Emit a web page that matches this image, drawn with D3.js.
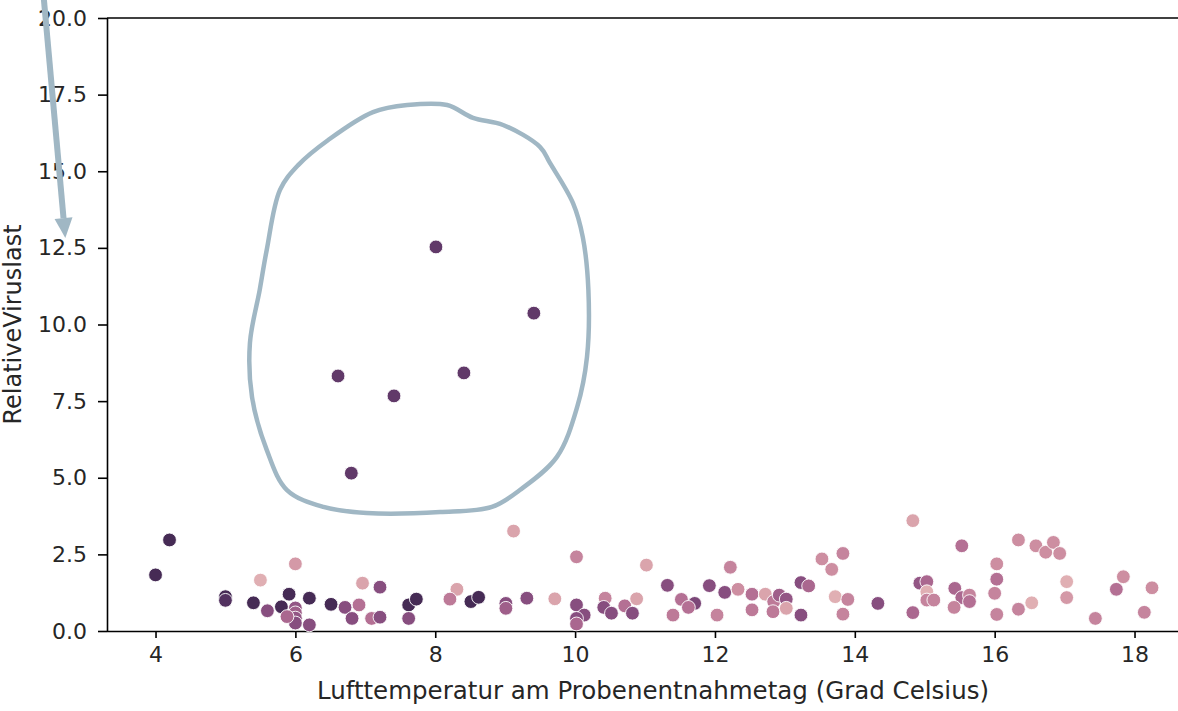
<!DOCTYPE html>
<html>
<head>
<meta charset="utf-8">
<script src="https://cdn.jsdelivr.net/npm/d3@7"></script>
<style>
  html, body { margin: 0; padding: 0; background: #ffffff; }
  svg { display: block; }
  text { font-family: "DejaVu Sans", sans-serif; fill: #262626; }
</style>
</head>
<body>
<svg id="chart" width="1178" height="711"></svg>
<script>
// ---- data ----
const temperatur = [
  8.01, 9.41, 6.61, 7.41, 8.41, 6.80,
  4.00, 4.20, 5.00, 5.00, 5.50, 6.00, 5.40, 5.60, 5.80, 5.91, 6.20, 6.00, 6.00, 6.00, 6.00, 5.88, 6.20,
  6.51, 6.71, 6.91, 6.96, 7.21, 6.81, 7.09, 7.21, 7.62, 7.73, 7.62, 8.31, 8.21, 8.51, 8.62,
  9.12, 9.01, 9.01, 9.31, 9.71, 10.02, 10.02, 10.13, 10.02, 10.02, 10.43, 10.41, 10.52, 10.71, 10.82, 10.88,
  11.02, 11.32, 11.40, 11.52, 11.71, 11.62, 11.92, 12.22, 12.14, 12.33, 12.03, 12.53, 12.53, 12.72, 12.84, 12.83,
  12.92, 13.02, 13.02, 13.23, 13.34, 13.23, 13.53, 13.67, 13.83, 13.72, 13.90, 13.83, 14.33,
  14.83, 14.93, 15.03, 15.03, 15.03, 15.13, 14.83, 15.53, 15.43, 15.53, 15.64, 15.64, 15.42,
  16.03, 16.03, 16.00, 16.03, 16.34, 16.34, 16.53, 16.59, 16.73, 16.84, 16.93, 17.03, 17.03,
  17.44, 17.74, 17.84, 18.14, 18.25
];
const viruslast = [
  12.53, 10.37, 8.32, 7.67, 8.42, 5.15,
  1.83, 2.97, 1.12, 1.00, 1.66, 2.19, 0.92, 0.66, 0.79, 1.20, 1.07, 0.75, 0.59, 0.42, 0.26, 0.47, 0.20,
  0.87, 0.77, 0.85, 1.56, 1.43, 0.41, 0.41, 0.45, 0.85, 1.04, 0.41, 1.36, 1.04, 0.96, 1.10,
  3.26, 0.90, 0.74, 1.07, 1.05, 2.42, 0.85, 0.52, 0.41, 0.23, 1.07, 0.77, 0.58, 0.82, 0.58, 1.05,
  2.15, 1.49, 0.52, 1.03, 0.90, 0.77, 1.48, 2.08, 1.26, 1.36, 0.52, 1.20, 0.69, 1.20, 0.96, 0.63,
  1.17, 1.04, 0.74, 1.58, 1.47, 0.52, 2.35, 2.01, 2.53, 1.12, 1.03, 0.55, 0.90,
  3.60, 1.56, 1.61, 1.28, 1.01, 1.01, 0.60, 2.78, 1.39, 1.09, 1.17, 0.96, 0.77,
  2.19, 1.69, 1.23, 0.54, 2.97, 0.71, 0.92, 2.78, 2.57, 2.89, 2.53, 1.61, 1.09,
  0.41, 1.36, 1.77, 0.61, 1.41
];
// hue variable (normalised, 0 = light, 1 = dark)
const farbwert = [
  0.80, 0.80, 0.80, 0.80, 0.80, 0.80,
  0.90, 0.90, 0.90, 0.85, 0.15, 0.25, 0.90, 0.65, 0.90, 0.90, 0.90, 0.60, 0.55, 0.60, 0.65, 0.50, 0.65,
  0.90, 0.65, 0.45, 0.20, 0.65, 0.65, 0.45, 0.65, 0.90, 0.90, 0.65, 0.20, 0.40, 0.90, 0.90,
  0.20, 0.65, 0.55, 0.65, 0.20, 0.35, 0.65, 0.65, 0.65, 0.50, 0.35, 0.65, 0.65, 0.45, 0.65, 0.20,
  0.20, 0.65, 0.40, 0.45, 0.70, 0.45, 0.65, 0.35, 0.65, 0.30, 0.35, 0.45, 0.40, 0.20, 0.40, 0.40,
  0.55, 0.60, 0.20, 0.65, 0.50, 0.65, 0.30, 0.30, 0.35, 0.15, 0.35, 0.35, 0.65,
  0.20, 0.60, 0.50, 0.15, 0.35, 0.35, 0.50, 0.45, 0.50, 0.50, 0.35, 0.45, 0.35,
  0.30, 0.45, 0.35, 0.35, 0.30, 0.35, 0.15, 0.30, 0.30, 0.30, 0.30, 0.15, 0.25,
  0.35, 0.45, 0.30, 0.35, 0.30
];
const xTicks = [4, 6, 8, 10, 12, 14, 16, 18];
const yTicks = [0, 2.5, 5, 7.5, 10, 12.5, 15, 17.5, 20];
const xLabel = "Lufttemperatur am Probenentnahmetag (Grad Celsius)";
const yLabel = "RelativeViruslast";
// hand-drawn annotation (in data units)
const outlineX = [6.04, 6.47, 7.11, 7.60, 8.17, 8.54, 8.97, 9.50, 9.64, 9.97, 10.11, 10.19, 10.17, 10.03, 9.74, 9.21, 8.81, 8.07, 7.02, 6.40, 5.88, 5.59, 5.38, 5.35, 5.49, 5.59, 5.78];
const outlineY = [15.20, 16.02, 16.93, 17.16, 17.16, 16.74, 16.51, 15.79, 15.27, 13.96, 12.85, 11.13, 8.94, 7.31, 5.68, 4.60, 4.05, 3.88, 3.85, 4.05, 4.60, 5.91, 7.63, 9.40, 11.13, 12.43, 14.39];
const arrowX = [2.39, 2.71];
const arrowY = [20.95, 12.82];

// ---- seaborn default cubehelix colormap ----
function cubehelix(t) {
  const light = 0.85, dark = 0.15, start = 0, rot = 0.4, gamma = 1, hue = 0.8;
  const xv = light + (dark - light) * t;
  const xg = Math.pow(xv, gamma);
  const a = hue * xg * (1 - xg) / 2;
  const phi = 2 * Math.PI * (start / 3 + rot * xv);
  const f = (p0, p1) => Math.max(0, Math.min(1, xg + a * (p0 * Math.cos(phi) + p1 * Math.sin(phi))));
  const r = f(-0.14861, 1.78277), g = f(-0.29227, -0.90649), b = f(1.97294, 0);
  return d3.rgb(r * 255, g * 255, b * 255).formatHex();
}

(function draw() {
  const svg = d3.select("#chart");
  const mLeft = 107, mTop = 18, mBottom = 631, mRight = 1199;

  const x = d3.scaleLinear().domain([3.306, 18.922]).range([mLeft, mRight]);
  const y = d3.scaleLinear().domain([0, 20]).range([mBottom, mTop]);

  // top spine
  svg.append("line").attr("x1", mLeft).attr("x2", mRight).attr("y1", mTop).attr("y2", mTop)
    .attr("stroke", "#000").attr("stroke-width", 1.6);

  // axes
  const gx = svg.append("g").attr("transform", `translate(0,${mBottom})`)
    .call(d3.axisBottom(x).tickValues(xTicks).tickFormat(d3.format("d")).tickSize(7).tickPadding(8));
  const gy = svg.append("g").attr("transform", `translate(${mLeft},0)`)
    .call(d3.axisLeft(y).tickValues(yTicks).tickFormat(d3.format(".1f")).tickSize(9).tickPadding(11));
  [gx, gy].forEach(g => {
    g.select(".domain").attr("stroke", "#000").attr("stroke-width", 1.6);
    g.selectAll(".tick line").attr("stroke", "#000").attr("stroke-width", 1.6);
    g.selectAll(".tick text").attr("font-size", 22).attr("fill", "#262626")
      .attr("font-family", "DejaVu Sans, sans-serif");
  });
  gx.select(".domain").attr("d", `M${mLeft},0.5H${mRight}`);
  gy.select(".domain").attr("d", `M0.5,${mTop}V${mBottom}`);

  // axis labels
  svg.append("text").attr("x", 653).attr("y", 699).attr("text-anchor", "middle")
    .attr("font-size", 24.5).text(xLabel);
  svg.append("text").attr("transform", `translate(21,${(mTop + mBottom) / 2}) rotate(-90)`)
    .attr("text-anchor", "middle").attr("font-size", 24).text(yLabel);

  // points
  const pts = temperatur.map((t, i) => ({ t, v: viruslast[i], h: farbwert[i] }));
  svg.append("g").selectAll("circle").data(pts).join("circle")
    .attr("cx", d => x(d.t)).attr("cy", d => y(d.v)).attr("r", 6.9)
    .attr("fill", d => cubehelix(d.h))
    .attr("stroke", "#ffffff").attr("stroke-width", 0.9);

  // hand-drawn annotation
  const annoColor = "#a0b7c4";
  const outline = outlineX.map((v, i) => [x(v), y(outlineY[i])]);
  svg.append("path").attr("d", d3.line().curve(d3.curveCatmullRomClosed.alpha(0.5))(outline))
    .attr("fill", "none").attr("stroke", annoColor).attr("stroke-width", 4.5)
    .attr("stroke-linejoin", "round");

  const ax0 = x(arrowX[0]), ay0 = y(arrowY[0]), ax1 = x(arrowX[1]), ay1 = y(arrowY[1]);
  const ang = Math.atan2(ay1 - ay0, ax1 - ax0);
  const headLen = 20, headW = 9;
  const bx = ax1 - headLen * Math.cos(ang), by = ay1 - headLen * Math.sin(ang);
  svg.append("line").attr("x1", ax0).attr("y1", ay0).attr("x2", bx).attr("y2", by)
    .attr("stroke", annoColor).attr("stroke-width", 6);
  const px = -Math.sin(ang), py = Math.cos(ang);
  svg.append("path")
    .attr("d", `M${ax1},${ay1}L${bx + headW * px},${by + headW * py}L${bx - headW * px},${by - headW * py}Z`)
    .attr("fill", annoColor);
})();
</script>
</body>
</html>
